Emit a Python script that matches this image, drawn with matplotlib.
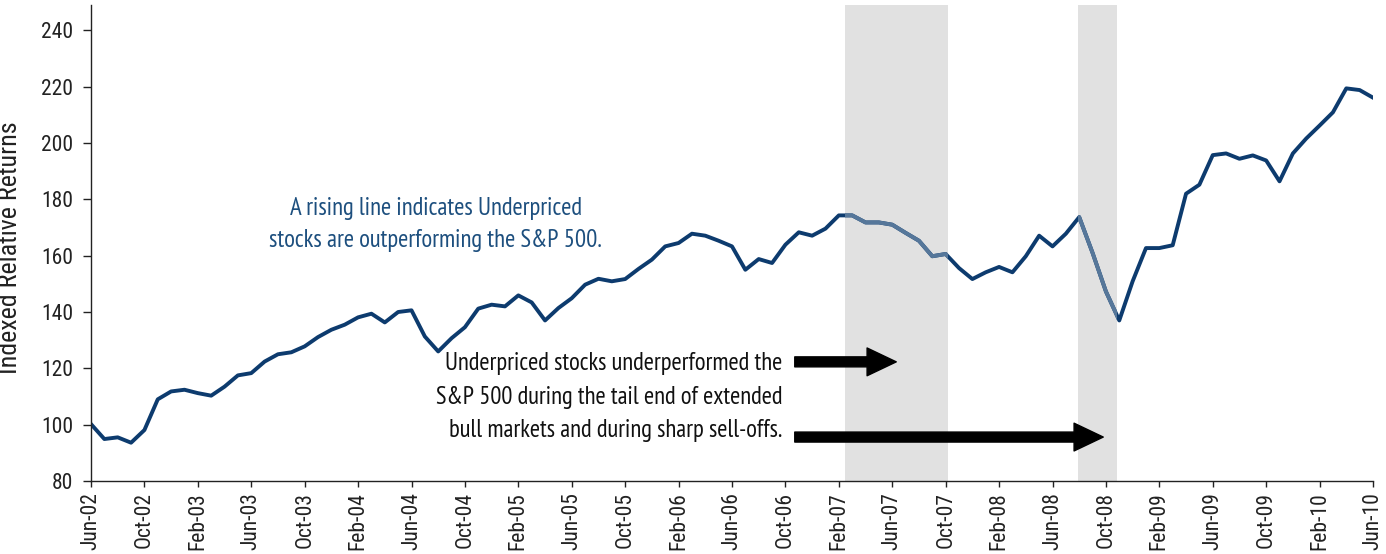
import numpy as np
import matplotlib
matplotlib.use('Agg')
import matplotlib.pyplot as plt

axis_font = ['Roboto Condensed', 'Archivo Narrow', 'Liberation Sans', 'DejaVu Sans']
note_font = ['PT Sans Narrow', 'Roboto Condensed', 'Liberation Sans', 'DejaVu Sans']
plt.rcParams['font.family'] = axis_font

# Monthly index values, Jun-02 .. Jun-10
values = [100.2, 94.9, 95.5, 93.6, 98.1, 109.0, 111.8, 112.4, 111.2, 110.3,
          113.5, 117.5, 118.3, 122.4, 125.0, 125.7, 127.8, 131.1, 133.7, 135.5,
          138.1, 139.4, 136.3, 140.0, 140.6, 131.3, 126.0, 130.7, 134.6, 141.2,
          142.6, 142.0, 145.9, 143.4, 137.0, 141.4, 144.9, 149.7, 151.8, 150.9,
          151.7, 155.3, 158.6, 163.3, 164.5, 167.8, 167.1, 165.3, 163.3, 155.0,
          158.8, 157.4, 163.9, 168.3, 167.1, 169.6, 174.3, 174.3, 171.8, 171.8,
          171.0, 168.1, 165.3, 159.8, 160.6, 155.6, 151.7, 154.1, 156.0, 154.1,
          159.8, 167.1, 163.3, 167.8, 173.7, 161.0, 147.3, 137.0, 150.9, 162.7,
          162.7, 163.7, 182.0, 185.2, 195.7, 196.3, 194.4, 195.6, 193.8, 186.4,
          196.3, 201.6, 206.2, 210.9, 219.4, 218.8, 216.1]

tick_labels = ['Jun-02', 'Oct-02', 'Feb-03', 'Jun-03', 'Oct-03', 'Feb-04', 'Jun-04',
               'Oct-04', 'Feb-05', 'Jun-05', 'Oct-05', 'Feb-06', 'Jun-06', 'Oct-06',
               'Feb-07', 'Jun-07', 'Oct-07', 'Feb-08', 'Jun-08', 'Oct-08', 'Feb-09',
               'Jun-09', 'Oct-09', 'Feb-10', 'Jun-10']
y_ticks = [80, 100, 120, 140, 160, 180, 200, 220, 240]

# shaded periods, in months from Jun-02
shade_periods = [(56.46, 64.21), (73.88, 76.83)]

dark = '#0d3b6e'
light = '#56779a'

x = np.arange(len(values))

fig = plt.figure(figsize=(13.86, 5.54), dpi=100)
ax = fig.add_axes([91/1386, 73/554, 1282/1386, 476/554])

spans = []
for a, b in shade_periods:
    spans.append(ax.axvspan(a, b, color='#e1e1e1', lw=0, zorder=0))

ax.plot(x, values, color=dark, lw=2.8, zorder=2)
# lighter line inside the shaded periods
for sp in spans:
    ln, = ax.plot(x, values, color=light, lw=2.8, zorder=3)
    ln.set_clip_path(sp)

ax.set_xlim(0, 96)
ax.set_ylim(80, 249)
ax.set_yticks(y_ticks)
ax.set_xticks(x[::4])
ax.set_xticklabels(tick_labels, rotation=90)

for s in ['top', 'right']:
    ax.spines[s].set_visible(False)
for s in ['left', 'bottom']:
    ax.spines[s].set_color('#222222')
    ax.spines[s].set_linewidth(1.0)
ax.tick_params(axis='y', length=6, width=1, color='#222222', labelsize=15.5, pad=7, labelcolor='#222222')
ax.tick_params(axis='x', length=4, width=1, color='#222222', labelsize=15.5, pad=4, labelcolor='#222222')

ax.set_ylabel('Indexed Relative Returns', fontsize=18.7, color='#222222')
ax.yaxis.set_label_coords(-0.054, 0.49)

ax.text(25.8, 171.0, 'A rising line indicates Underpriced\nstocks are outperforming the S&P 500.',
        ha='center', va='center', fontsize=17.8, color='#1d4f7e', linespacing=1.52,
        family=note_font)

ax.text(51.75, 109.8, 'Underpriced stocks underperformed the\nS&P 500 during the tail end of extended\nbull markets and during sharp sell-offs.',
        ha='right', va='center', fontsize=17.7, color='#111111', linespacing=1.6,
        family=note_font)

arrow_style = 'simple,head_length=21,head_width=20,tail_width=7.2'
ax.annotate('', xy=(60.3, 122.3), xytext=(52.7, 122.3),
            arrowprops=dict(arrowstyle=arrow_style, color='black', mutation_scale=1,
                            shrinkA=0, shrinkB=0))
ax.annotate('', xy=(75.8, 95.6), xytext=(52.7, 95.6),
            arrowprops=dict(arrowstyle=arrow_style, color='black', mutation_scale=1,
                            shrinkA=0, shrinkB=0))

fig.savefig('out.png', dpi=100)
